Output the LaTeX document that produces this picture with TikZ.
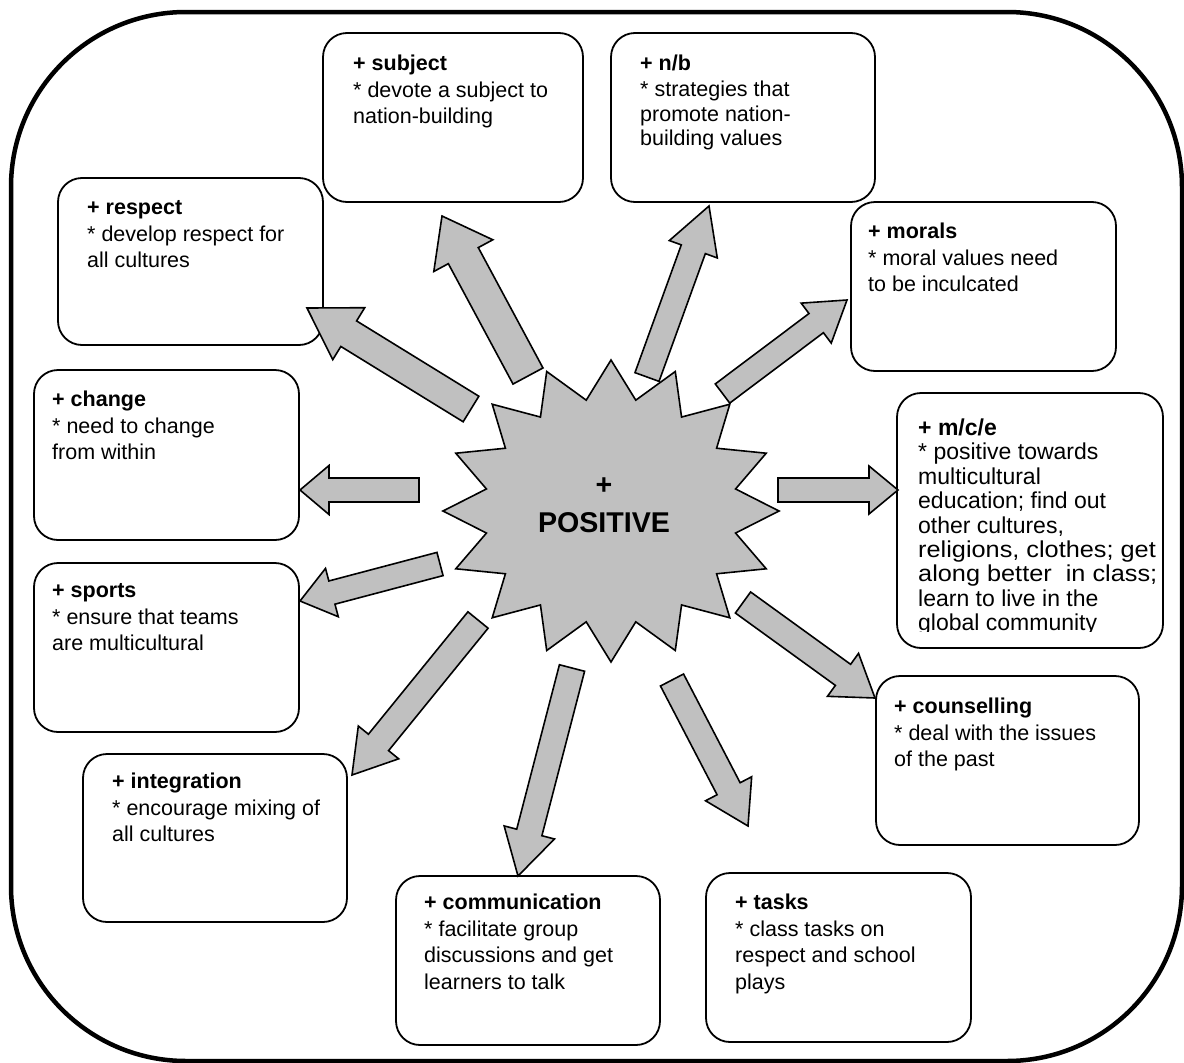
\documentclass[tikz,border=0pt]{standalone}
\usepackage{fontspec}
\usepackage{graphicx}
\setmainfont{Liberation Sans}
\usetikzlibrary{calc}
\definecolor{silverg}{RGB}{192,192,192}
\tikzset{
  box/.style n args={2}{draw, line width=1.8pt, rounded corners=24pt,
    minimum width=#1, minimum height=#2, inner sep=0pt},
  txt/.style={anchor=base west, inner sep=0pt,
    font=\fontsize{21.5}{26.5}\selectfont},
  txttight/.style={anchor=base west, inner sep=0pt,
    font=\fontsize{21.5}{24.5}\selectfont},
  txtmce/.style={anchor=base west, inner sep=0pt,
    font=\fontsize{23}{24.4}\selectfont},
  arrowshape/.style={draw=black, fill=silverg, line width=1.6pt, line join=miter},
  starshape/.style={draw=black, fill=silverg, line width=1.6pt, line join=miter},
  frame/.style={draw=black, line width=4.5pt, rounded corners=175pt}
}
\newcommand\boxtext[1]{\parbox[t]{300pt}{\raggedright #1}}
\newcommand\blockarrow[5]{%
  \coordinate (hb) at ($(#2)!#5!(#1)$);
  \draw[arrowshape] ($(#1)!#3!90:(#2)$) -- ($(hb)!#3!90:(#2)$) -- ($(hb)!#4!90:(#2)$)
    -- (#2) -- ($(hb)!#4!-90:(#2)$) -- ($(hb)!#3!-90:(#2)$) -- ($(#1)!#3!-90:(#2)$) -- cycle;
}
\begin{document}
\begin{tikzpicture}[x=1pt,y=-1pt]
\useasboundingbox (0,0) rectangle (1184,1063);
% outer frame
\draw[frame] (11,12) rectangle (1182,1061);

% boxes
\node[box={260pt}{169pt}] (subject) at (453,117.5) {};
\node[box={264pt}{169pt}] (nb) at (743,117.5) {};
\node[box={265pt}{167pt}] (respect) at (190.5,261.5) {};
\node[box={265pt}{169pt}] (morals) at (983.5,286.5) {};
\node[box={265pt}{170pt}] (change) at (166.5,455) {};
\node[box={266pt}{255pt}] (mce) at (1030,520.5) {};
\node[box={265pt}{169pt}] (sports) at (166.5,647.5) {};
\node[box={263pt}{169pt}] (counselling) at (1007.5,760.5) {};
\node[box={264pt}{168pt}] (integration) at (215,838) {};
\node[box={264pt}{169pt}] (communication) at (528,960.5) {};
\node[box={265pt}{169pt}] (tasks) at (838.5,957.5) {};

% texts
\node[txt] (tsubject) at (353,70.5) {\boxtext{\textbf{+ subject}\\{}* devote a subject to\\nation-building}};
\node[txttight] (tnb) at (640,70.5) {\boxtext{\textbf{+ n/b}\\[1.5pt]{}* strategies that\\promote nation-\\building values}};
\node[txt] (trespect) at (87,214.5) {\boxtext{\textbf{+ respect}\\{}* develop respect for\\all cultures}};
\node[txt] (tmorals) at (868,238.5) {\boxtext{\textbf{+ morals}\\{}* moral values need\\to be inculcated}};
\node[txt] (tchange) at (52,406.5) {\boxtext{\textbf{+ change}\\{}* need to change\\from within}};
\begin{scope}
  \clip (899,395) rectangle (1160,631.5);
  \node[txtmce] (tmce) at (918,435.5)
    {\boxtext{\textbf{+ m/c/e}\\{}* positive towards\\multicultural\\education; find out\\other cultures,\\\scalebox{1.1}[1]{religions, clothes; get}\\\scalebox{1.1}[1]{along better\ \ in class;}\\learn to live in the\\global community}};
\end{scope}
\node[txt] (tsports) at (52,597.5) {\boxtext{\textbf{+ sports}\\{}* ensure that teams\\are multicultural}};
\node[txt] (tcounselling) at (894,713.5) {\boxtext{\textbf{+ counselling}\\{}* deal with the issues\\of the past}};
\node[txt] (tintegration) at (112,788.5) {\boxtext{\textbf{+ integration}\\{}* encourage mixing of\\all cultures}};
\node[txt] (tcommunication) at (424,909.5) {\boxtext{\textbf{+ communication}\\{}* facilitate group\\discussions and get\\learners to talk}};
\node[txt] (ttasks) at (735,909.5) {\boxtext{\textbf{+ tasks}\\{}* class tasks on\\respect and school\\plays}};

% star
\draw[starshape] plot[samples at={0,...,31}, variable=\i]
  ({611+(168-41*mod(\i,2))*cos(\i*11.25)}, {511+(151-38*mod(\i,2))*sin(\i*11.25)}) -- cycle;
\node[align=center, inner sep=0pt, font=\fontsize{28.6}{38}\selectfont\bfseries] (positive) at (604,505) {+\\POSITIVE};

% arrow coordinates
\coordinate (s1) at (528,376);   \coordinate (e1) at (442,216);
\coordinate (s2) at (647,377);   \coordinate (e2) at (709,206);
\coordinate (s3) at (471,409);   \coordinate (e3) at (307,308);
\coordinate (s4) at (722.5,393.5); \coordinate (e4) at (847,300);
\coordinate (s5) at (419,490);   \coordinate (e5) at (300,490);
\coordinate (s6) at (778,490);   \coordinate (e6) at (898,490);
\coordinate (s7) at (743,602.5); \coordinate (e7) at (875,698);
\coordinate (s8) at (672,680);   \coordinate (e8) at (748,826);
\coordinate (s9) at (572,668);   \coordinate (e9) at (518,876);
\coordinate (s10) at (478,620);  \coordinate (e10) at (352,775);
\coordinate (s11) at (440,564);  \coordinate (e11) at (300,601);

\blockarrow{s1}{e1}{17pt}{33.5pt}{45pt}
\blockarrow{s2}{e2}{12.8pt}{25.5pt}{46pt}
\blockarrow{s3}{e3}{15pt}{30.5pt}{49pt}
\blockarrow{s4}{e4}{12pt}{25pt}{38.5pt}
\blockarrow{s5}{e5}{12pt}{24.5pt}{29pt}
\blockarrow{s6}{e6}{12pt}{24pt}{29pt}
\blockarrow{s7}{e7}{13pt}{26.5pt}{39.5pt}
\blockarrow{s8}{e8}{13pt}{26pt}{42pt}
\blockarrow{s9}{e9}{13pt}{26pt}{45pt}
\blockarrow{s10}{e10}{13pt}{26pt}{42pt}
\blockarrow{s11}{e11}{12pt}{25pt}{33pt}
\end{tikzpicture}
\end{document}
